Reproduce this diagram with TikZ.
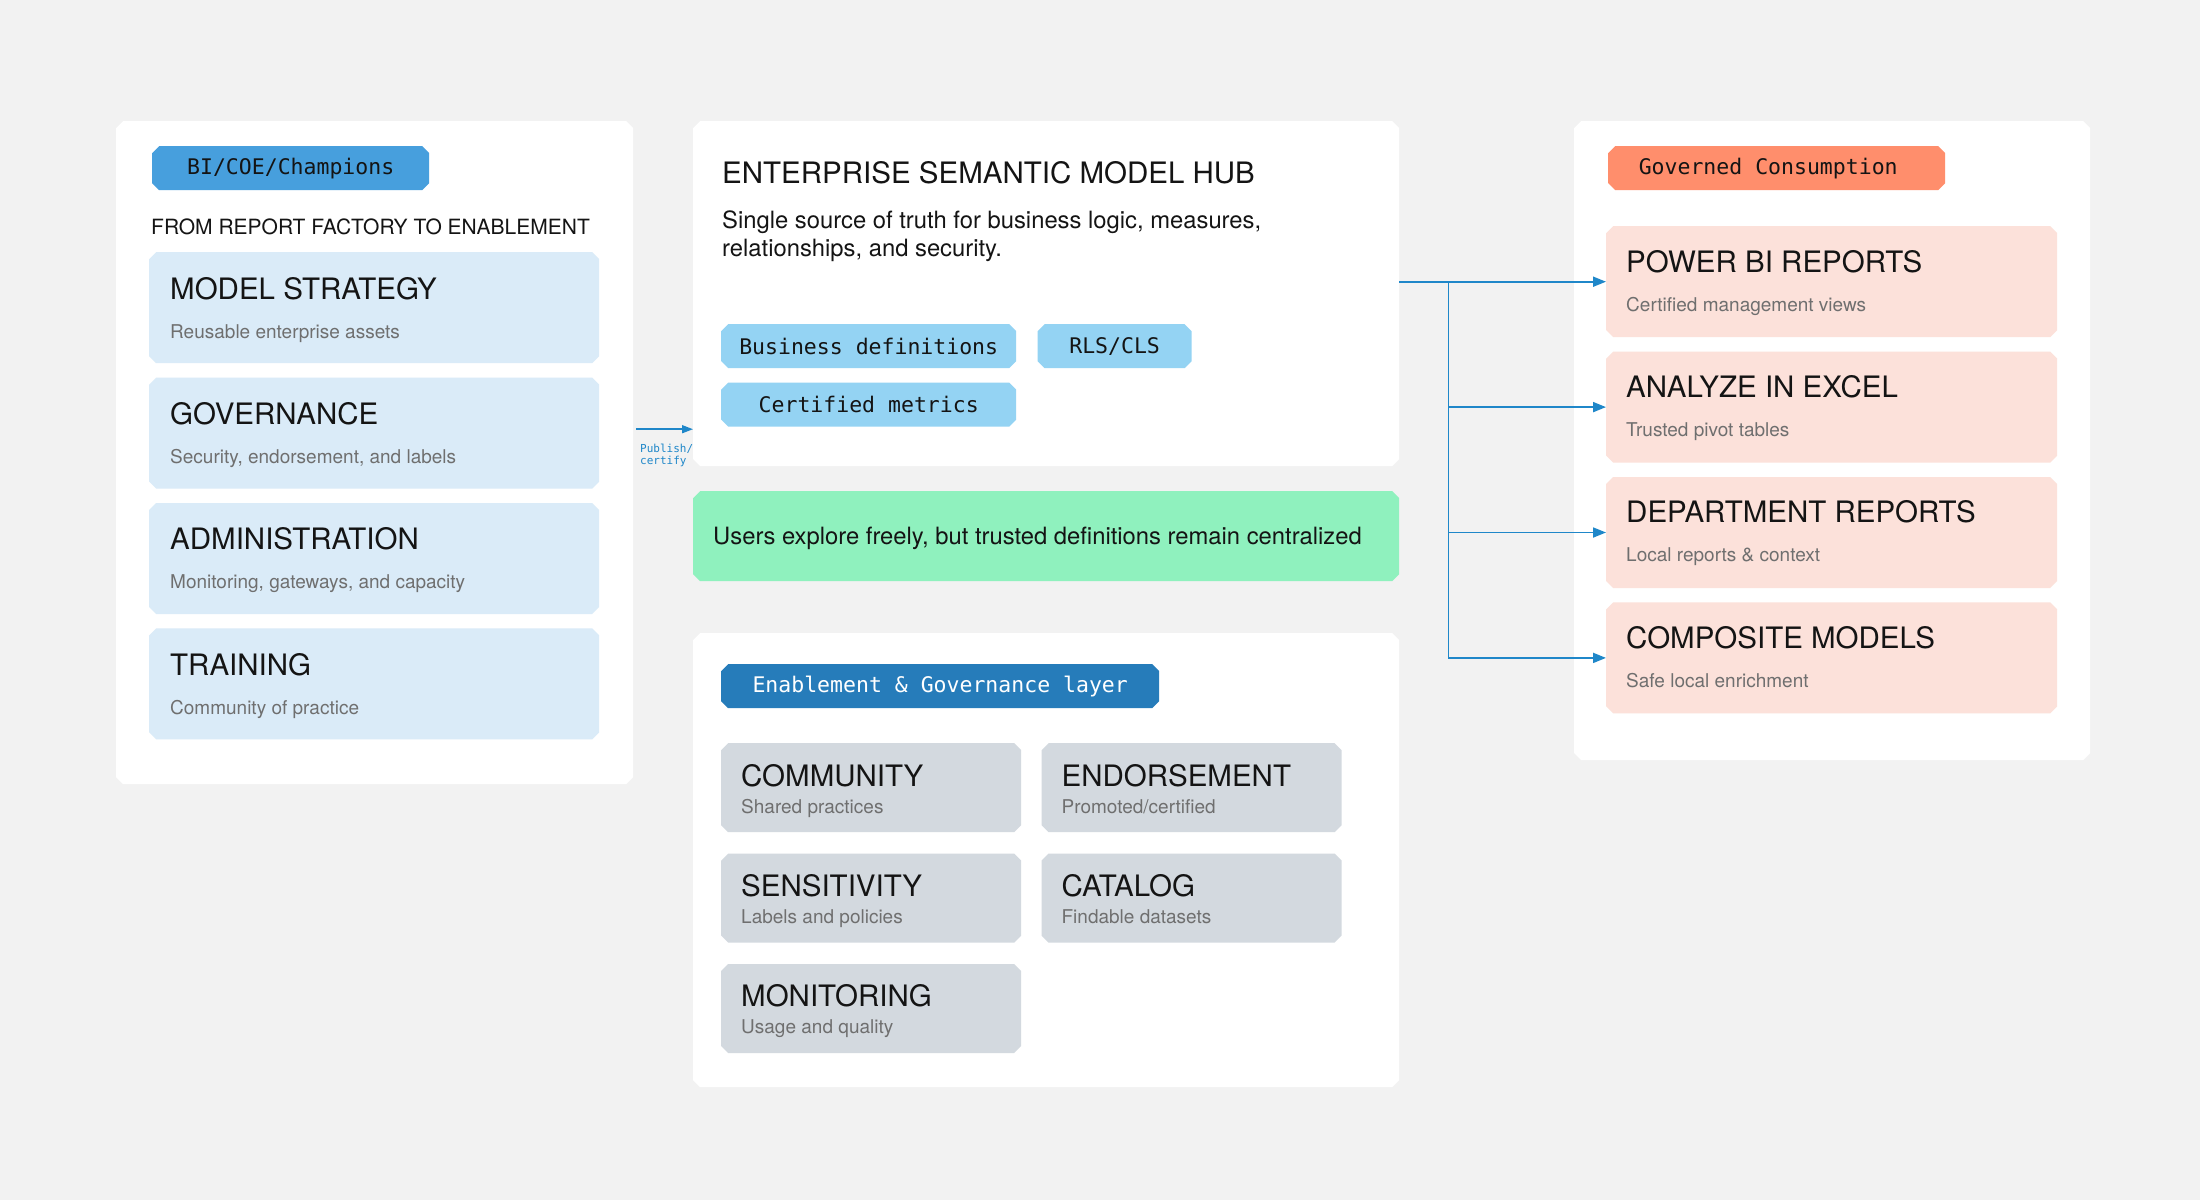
\documentclass[tikz,border=0pt]{standalone}
\usepackage{fontspec}
\setmainfont{TeX Gyre Heros}
\setmonofont{DejaVu Sans Mono}
\usepackage{tikz}
\usetikzlibrary{positioning,arrows.meta}

\definecolor{canvas}{HTML}{F2F2F2}
\definecolor{coeblue}{HTML}{479FDD}
\definecolor{coecard}{HTML}{DAEBF8}
\definecolor{chipblue}{HTML}{94D3F3}
\definecolor{mint}{HTML}{8FF1BE}
\definecolor{slatecard}{HTML}{D3D9DF}
\definecolor{layerblue}{HTML}{267CBA}
\definecolor{salmon}{HTML}{FF8E6C}
\definecolor{peach}{HTML}{FCE1DA}
\definecolor{flowblue}{HTML}{1F87C9}
\definecolor{subgray}{HTML}{6F6F6F}
\definecolor{ink}{HTML}{141414}

\begin{document}
\begin{tikzpicture}[x=1pt, y=-1pt, inner sep=0pt]
    % cut-corner fill, drawn inside the node's rectangle
    \tikzstyle{cut}=[rectangle, inner sep=0pt, anchor=north west, path picture={
        \fill[#1] ([xshift=7pt]path picture bounding box.north west) -- ([xshift=-7pt]path picture bounding box.north east)
            -- ([yshift=-7pt]path picture bounding box.north east) -- ([yshift=7pt]path picture bounding box.south east)
            -- ([xshift=-7pt]path picture bounding box.south east) -- ([xshift=7pt]path picture bounding box.south west)
            -- ([yshift=7pt]path picture bounding box.south west) -- ([yshift=-7pt]path picture bounding box.north west) -- cycle;}]
    \tikzstyle{panel}=[cut=white]
    \tikzstyle{tag}=[minimum height=44pt, font=\ttfamily\fontsize{21.5}{25}\selectfont, text=ink]
    \tikzstyle{chip}=[cut=chipblue, minimum height=44pt, font=\ttfamily\fontsize{21.5}{25}\selectfont, text=ink]
    \tikzstyle{lcard}=[cut=coecard, minimum width=450pt, minimum height=111pt]
    \tikzstyle{rcard}=[cut=peach, minimum width=451pt, minimum height=111pt]
    \tikzstyle{gcard}=[cut=slatecard, minimum width=300pt, minimum height=89pt]
    \tikzstyle{ctitle}=[anchor=base west, font=\fontsize{29.5}{33}\selectfont, text=ink]
    \tikzstyle{csub}=[anchor=base west, font=\fontsize{19}{23}\selectfont, text=subgray]
    \tikzstyle{lede}=[anchor=base west, font=\fontsize{23.8}{28}\selectfont, text=ink]
    \tikzstyle{flow}=[->, draw=flowblue, line width=1.8pt, >={Triangle[length=13pt,width=10pt]}]
    \tikzstyle{pub}=[->, draw=flowblue, line width=1.5pt, >={Triangle[length=11pt,width=8pt]}]
    \tikzstyle{publbl}=[anchor=north west, align=left, text=flowblue, font=\ttfamily\fontsize{11}{11.5}\selectfont]

    \fill[canvas] (0,0) rectangle (2200,1200);
    \useasboundingbox (0,0) rectangle (2200,1200);

    % left column: BI / COE
    \node[panel, minimum width=517pt, minimum height=663pt] (coe) at (116,121) {};
    \node[cut=coeblue, tag, minimum width=277pt] (coe-tag) at (152,146) {BI/COE/Champions};
    \node[anchor=base west, font=\fontsize{21}{25}\selectfont, text=ink] (coe-lead) at (151,234) {FROM REPORT FACTORY TO ENABLEMENT};
    \node[lcard] (strat) at (149,252) {};
    \node[lcard, below=14pt of strat] (gov) {};
    \node[lcard, below=14pt of gov] (admin) {};
    \node[lcard, below=14pt of admin] (train) {};
    \node[ctitle] (strat-t) at ([xshift=21pt,yshift=-47pt]strat.north west) {MODEL STRATEGY};
    \node[csub] (strat-s) at ([xshift=21pt,yshift=-86pt]strat.north west) {Reusable enterprise assets};
    \node[ctitle] (gov-t) at ([xshift=21pt,yshift=-47pt]gov.north west) {GOVERNANCE};
    \node[csub] (gov-s) at ([xshift=21pt,yshift=-86pt]gov.north west) {Security, endorsement, and labels};
    \node[ctitle] (admin-t) at ([xshift=21pt,yshift=-47pt]admin.north west) {ADMINISTRATION};
    \node[csub] (admin-s) at ([xshift=21pt,yshift=-86pt]admin.north west) {Monitoring, gateways, and capacity};
    \node[ctitle] (train-t) at ([xshift=21pt,yshift=-47pt]train.north west) {TRAINING};
    \node[csub] (train-s) at ([xshift=21pt,yshift=-86pt]train.north west) {Community of practice};

    % middle column: hub, note, enablement layer
    \node[panel, minimum width=706pt, minimum height=345pt] (hub) at (693,121) {};
    \node[anchor=base west, font=\fontsize{29.5}{33}\selectfont, text=ink] (hub-t) at (722,183) {ENTERPRISE SEMANTIC MODEL HUB};
    \node[lede, anchor=north west, align=left] (hub-s) at (722,211) {Single source of truth for business logic, measures,\\relationships, and security.};
    \node[chip, minimum width=295pt] (defs) at (721,324) {Business definitions};
    \node[chip, minimum width=154pt, right=21pt of defs] (rls) {RLS/CLS};
    \node[chip, minimum width=295pt, below=14pt of defs] (metrics) {Certified metrics};

    \node[cut=mint, minimum width=706pt, minimum height=90pt] (note) at (693,491) {};
    \node[lede] (note-t) at (713,544) {Users explore freely, but trusted definitions remain centralized};

    \node[panel, minimum width=706pt, minimum height=454pt] (layer) at (693,633) {};
    \node[cut=layerblue, tag, text=white, minimum width=438pt] (layer-tag) at (721,664) {Enablement \& Governance layer};
    \node[gcard] (comm) at (721,743) {};
    \node[gcard, right=20pt of comm] (endo) {};
    \node[gcard, below=21pt of comm] (sens) {};
    \node[gcard, right=20pt of sens] (cat) {};
    \node[gcard, below=21pt of sens] (mon) {};
    \node[ctitle] (comm-t) at ([xshift=20pt,yshift=-43pt]comm.north west) {COMMUNITY};
    \node[csub] (comm-s) at ([xshift=20pt,yshift=-70pt]comm.north west) {Shared practices};
    \node[ctitle] (endo-t) at ([xshift=20pt,yshift=-43pt]endo.north west) {ENDORSEMENT};
    \node[csub] (endo-s) at ([xshift=20pt,yshift=-70pt]endo.north west) {Promoted/certified};
    \node[ctitle] (sens-t) at ([xshift=20pt,yshift=-43pt]sens.north west) {SENSITIVITY};
    \node[csub] (sens-s) at ([xshift=20pt,yshift=-70pt]sens.north west) {Labels and policies};
    \node[ctitle] (cat-t) at ([xshift=20pt,yshift=-43pt]cat.north west) {CATALOG};
    \node[csub] (cat-s) at ([xshift=20pt,yshift=-70pt]cat.north west) {Findable datasets};
    \node[ctitle] (mon-t) at ([xshift=20pt,yshift=-43pt]mon.north west) {MONITORING};
    \node[csub] (mon-s) at ([xshift=20pt,yshift=-70pt]mon.north west) {Usage and quality};

    % right column: consumption
    \node[panel, minimum width=516pt, minimum height=639pt] (use) at (1574,121) {};
    \node[cut=salmon, tag, minimum width=337pt] (use-tag) at (1608,146) {Governed Consumption\hspace*{17pt}};
    \node[rcard] (pbi) at (1606,226) {};
    \node[rcard, below=14pt of pbi] (xls) {};
    \node[rcard, below=14pt of xls] (dept) {};
    \node[rcard, below=14pt of dept] (comp) {};
    \node[ctitle] (pbi-t) at ([xshift=20pt,yshift=-46pt]pbi.north west) {POWER BI REPORTS};
    \node[csub] (pbi-s) at ([xshift=20pt,yshift=-85pt]pbi.north west) {Certified management views};
    \node[ctitle] (xls-t) at ([xshift=20pt,yshift=-46pt]xls.north west) {ANALYZE IN EXCEL};
    \node[csub] (xls-s) at ([xshift=20pt,yshift=-85pt]xls.north west) {Trusted pivot tables};
    \node[ctitle] (dept-t) at ([xshift=20pt,yshift=-46pt]dept.north west) {DEPARTMENT REPORTS};
    \node[csub] (dept-s) at ([xshift=20pt,yshift=-85pt]dept.north west) {Local reports \& context};
    \node[ctitle] (comp-t) at ([xshift=20pt,yshift=-46pt]comp.north west) {COMPOSITE MODELS};
    \node[csub] (comp-s) at ([xshift=20pt,yshift=-85pt]comp.north west) {Safe local enrichment};

    % connectors
    \coordinate (pubin) at ([yshift=-135.5pt]hub.west);
    \draw[pub] ([xshift=3pt]coe.east |- pubin) -- (pubin)
        node[publbl, pos=0, xshift=3pt, yshift=-14.5pt] (pub-l) {Publish/\\certify};

    \coordinate (split) at ([xshift=49pt]hub.east |- pbi.west);
    \draw[flow] (hub.east |- pbi.west) -- (pbi.west);
    \draw[flow] (split) |- (xls.west);
    \draw[flow] (split) |- (dept.west);
    \draw[flow] (split) |- (comp.west);
\end{tikzpicture}
\end{document}
